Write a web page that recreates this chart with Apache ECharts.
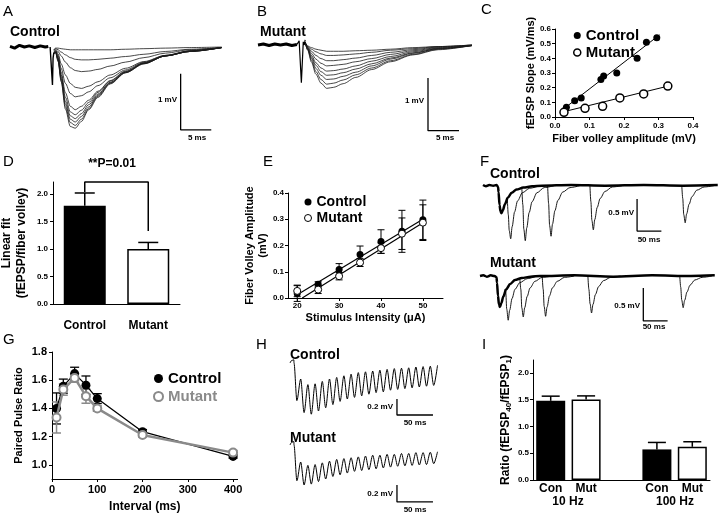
<!DOCTYPE html>
<html><head><meta charset="utf-8">
<script src="https://cdn.jsdelivr.net/npm/echarts@6/dist/echarts.min.js"></script>
<style>html,body{margin:0;padding:0;background:#fff}#c{width:720px;height:516px}</style>
</head><body><div id="c"></div><script>
const FONT = '"Liberation Sans", Arial, sans-serif';

// ---------------- A: control field EPSP sweeps (ms, mV) ----------------
const aPre = [[-6.85,0.01],[-6.1,-0.02],[-5.3,0.03],[-4.5,0],[-3.7,0.02],[-2.8,-0.01],[-1.9,0.02],[-1.1,0],[-0.6,0.01]];
const aArtifact = [[-0.3,0],[0,0.02],[0.08,-0.68],[0.18,-0.2],[0.3,-0.1]];
const aTimes = [0.3,0.6,1.0,1.5,2.2,3.0,3.8,4.8,6,7.5,9.5,12,15,18.5,22.5,27.7];
const aSweeps = [
  [-0.05,-0.02,-0.02,-0.03,-0.04,-0.05,-0.05,-0.05,-0.05,-0.05,-0.05,-0.04,-0.03,-0.02,-0.01,0],
  [-0.05,-0.03,-0.05,-0.09,-0.14,-0.19,-0.22,-0.23,-0.23,-0.22,-0.2,-0.17,-0.13,-0.08,-0.04,-0.01],
  [-0.06,-0.05,-0.08,-0.16,-0.27,-0.37,-0.42,-0.44,-0.43,-0.4,-0.34,-0.27,-0.19,-0.11,-0.05,-0.01],
  [-0.08,-0.06,-0.12,-0.3,-0.5,-0.65,-0.72,-0.74,-0.7,-0.62,-0.5,-0.38,-0.26,-0.15,-0.07,-0.01],
  [-0.09,-0.07,-0.15,-0.38,-0.65,-0.83,-0.89,-0.87,-0.8,-0.69,-0.55,-0.41,-0.27,-0.15,-0.07,-0.01],
  [-0.1,-0.08,-0.18,-0.45,-0.82,-1.06,-1.12,-1.06,-0.95,-0.79,-0.6,-0.43,-0.28,-0.16,-0.07,-0.01],
  [-0.1,-0.09,-0.2,-0.5,-0.9,-1.16,-1.21,-1.13,-0.99,-0.81,-0.61,-0.44,-0.29,-0.16,-0.07,-0.01],
  [-0.11,-0.09,-0.22,-0.54,-0.97,-1.23,-1.28,-1.19,-1.03,-0.84,-0.63,-0.45,-0.29,-0.16,-0.08,-0.01],
  [-0.11,-0.1,-0.23,-0.57,-1.02,-1.29,-1.34,-1.24,-1.07,-0.86,-0.64,-0.45,-0.29,-0.16,-0.08,-0.01],
  [-0.12,-0.1,-0.25,-0.6,-1.07,-1.35,-1.4,-1.29,-1.1,-0.88,-0.65,-0.46,-0.3,-0.16,-0.08,-0.01],
  [-0.12,-0.1,-0.26,-0.62,-1.11,-1.42,-1.45,-1.33,-1.12,-0.9,-0.66,-0.46,-0.3,-0.16,-0.08,-0.01]
];
const aScaleBar = [[21.0,-0.48],[21.0,-1.48],[26.0,-1.48]];

// ---------------- B: mutant field EPSP sweeps ----------------
const bPre = [[-6.95,0],[-6.1,0.02],[-5.2,-0.01],[-4.3,0.02],[-3.4,0],[-2.5,0.02],[-1.6,-0.01],[-0.8,0.01]];
const bArtifact = [[-0.8,0.01],[-0.45,0.08],[-0.1,-0.72],[0.2,0.06],[0.35,0.0],[0.5,0.1]];
const bTimes = [0.5,0.9,1.5,2.2,3.0,3.9,5,6.5,8.5,11,14,17.5,21.5,26.85];
const bSweeps = [
  [0.05,-0.02,-0.05,-0.08,-0.1,-0.12,-0.12,-0.12,-0.11,-0.1,-0.08,-0.05,-0.03,0],
  [0.05,-0.03,-0.08,-0.13,-0.17,-0.2,-0.2,-0.19,-0.17,-0.14,-0.1,-0.07,-0.03,0],
  [0.05,-0.04,-0.12,-0.2,-0.26,-0.3,-0.3,-0.28,-0.25,-0.2,-0.14,-0.09,-0.04,0],
  [0.05,-0.05,-0.16,-0.27,-0.35,-0.4,-0.39,-0.37,-0.32,-0.26,-0.18,-0.11,-0.05,-0.01],
  [0.05,-0.06,-0.2,-0.34,-0.44,-0.5,-0.49,-0.46,-0.4,-0.31,-0.22,-0.13,-0.06,-0.01],
  [0.05,-0.07,-0.23,-0.39,-0.51,-0.58,-0.57,-0.53,-0.46,-0.36,-0.25,-0.15,-0.07,-0.01],
  [0.05,-0.08,-0.26,-0.45,-0.58,-0.66,-0.65,-0.6,-0.52,-0.4,-0.27,-0.16,-0.07,-0.01],
  [0.05,-0.09,-0.3,-0.51,-0.66,-0.75,-0.73,-0.67,-0.57,-0.44,-0.3,-0.18,-0.08,-0.01],
  [0.05,-0.1,-0.33,-0.56,-0.73,-0.83,-0.81,-0.74,-0.62,-0.47,-0.32,-0.19,-0.09,-0.01]
];
const bScaleBar = [[19.9,-0.63],[19.9,-1.64],[24.8,-1.64]];

// ---------------- C: fEPSP slope vs fiber volley ----------------
const cCtrlX = [0.033,0.057,0.076,0.133,0.141,0.179,0.238,0.265,0.295];
const cCtrlY = [0.066,0.11,0.13,0.255,0.28,0.30,0.40,0.51,0.54];
const cMutX = [0.026,0.087,0.138,0.188,0.257,0.327];
const cMutY = [0.032,0.059,0.073,0.13,0.157,0.211];
const cCtrlFit = [[0.016,0.039],[0.303,0.56]];
const cMutFit = [[0.02,0.033],[0.33,0.212]];

// ---------------- D: linear fit bars ----------------
const dCats = ['Control','Mutant'];
const dMeans = [1.79, 1.0];
const dErr = [0.23, 0.12];
const dBracket = [[0,2.04],[0,2.22],[1,2.22],[1,1.33]];

// ---------------- E: fiber volley vs stimulus ----------------
const eStim = [20,25,30,35,40,45,50];
const eCtrl = [0.017,0.052,0.109,0.166,0.215,0.254,0.298];
const eCtrlErr = [0.03,0.01,0.022,0.032,0.045,0.08,0.075];
const eMut = [0.027,0.032,0.083,0.135,0.19,0.245,0.287];
const eMutErr = [0.022,0.015,0.014,0.015,0.02,0.06,0.068];
const eCtrlFit = [[20,0.012],[50,0.3]];
const eMutFit = [[21.2,0],[50,0.287]];

// ---------------- F: paired-pulse sweeps (ms, mV) ----------------
const fCtrlFirst = [[-31,0.01],[-25,-0.01],[-18,0.01],[-10,0],[-3,0.01],[0,-0.02],[1,-0.1],[3,-0.3],[5,-0.4],[7,-0.43],[10,-0.38],[14,-0.29],[20,-0.19],[28,-0.11],[38,-0.06],[52,-0.03],[70,-0.01],[90,0],[150,0.01],[220,0],[300,0.01],[380,0],[452,0.01]];
const fCtrlSecond = [
  [[19,-0.2],[21,-0.45],[23,-0.7],[26,-0.83],[29,-0.64],[34,-0.41],[40,-0.24],[50,-0.11],[65,-0.04],[85,0]],
  [[49,-0.05],[51,-0.3],[53,-0.68],[56,-0.86],[59,-0.66],[64,-0.42],[70,-0.25],[80,-0.11],[95,-0.03],[115,0]],
  [[102,0],[104,-0.28],[106,-0.62],[109,-0.79],[112,-0.6],[117,-0.39],[123,-0.23],[133,-0.1],[148,-0.03],[168,0]],
  [[189,0],[191,-0.25],[193,-0.54],[196,-0.69],[199,-0.53],[204,-0.34],[210,-0.2],[220,-0.09],[235,-0.02],[255,0]],
  [[378,0],[380,-0.2],[382,-0.45],[385,-0.58],[388,-0.44],[393,-0.29],[399,-0.17],[409,-0.07],[424,-0.02],[444,0]]
];
const fCtrlScaleBar = [[286,-0.21],[286,-0.71],[336,-0.71]];
const fMutFirst = [[-34,0],[-27,0.01],[-20,-0.01],[-12,0.01],[-4,0],[0,-0.02],[1,-0.1],[3,-0.3],[5,-0.43],[7,-0.47],[10,-0.41],[14,-0.31],[20,-0.2],[28,-0.12],[38,-0.06],[52,-0.03],[70,-0.01],[90,0],[160,0.01],[240,-0.01],[320,0.01],[400,0],[449,0.01]];
const fMutSecond = [
  [[17,-0.2],[19,-0.25],[21,-0.5],[24,-0.67],[27,-0.52],[32,-0.34],[38,-0.2],[48,-0.1],[63,-0.04],[83,0]],
  [[48,-0.04],[50,-0.2],[52,-0.48],[55,-0.62],[58,-0.48],[63,-0.31],[69,-0.18],[79,-0.08],[94,-0.02],[114,0]],
  [[94,0],[96,-0.2],[98,-0.46],[101,-0.61],[104,-0.47],[109,-0.3],[115,-0.18],[125,-0.08],[140,-0.02],[160,0]],
  [[188,0],[190,-0.2],[192.5,-0.42],[195.5,-0.56],[198.5,-0.43],[203.5,-0.28],[210,-0.16],[220,-0.07],[235,-0.02],[255,0]],
  [[377,0],[379,-0.17],[381,-0.36],[384,-0.48],[387,-0.37],[392,-0.24],[398,-0.14],[408,-0.06],[423,-0.02],[443,0]]
];
const fMutScaleBar = [[302,-0.18],[302,-0.68],[352,-0.68]];

// ---------------- G: paired pulse ratio ----------------
const gInt = [10,25,50,75,100,200,400];
const gCtrl = [1.40,1.558,1.647,1.565,1.47,1.235,1.06];
const gCtrlErr = [0.11,0.05,0.045,0.065,0.035,0.015,0.012];
const gMut = [1.336,1.534,1.616,1.487,1.40,1.212,1.087];
const gMutErr = [0.11,0.04,0.03,0.05,0.02,0.015,0.015];

// ---------------- H: 100 Hz trains (trough / peak of each of 20 responses, mV) ----------------
const hPre = [[-5.5,0],[-3.5,0.03],[-0.2,0.04]];
const hCtrlTroughs = [-0.47,-0.62,-0.64,-0.6,-0.56,-0.52,-0.48,-0.45,-0.43,-0.41,-0.39,-0.37,-0.36,-0.34,-0.33,-0.32,-0.31,-0.3,-0.29,-0.28];
const hCtrlPeaks = [-0.2,-0.27,-0.26,-0.23,-0.2,-0.18,-0.16,-0.14,-0.12,-0.11,-0.1,-0.09,-0.08,-0.07,-0.065,-0.06,-0.05,-0.045,-0.04,-0.03];
const hMutTroughs = [-0.42,-0.47,-0.46,-0.43,-0.4,-0.37,-0.35,-0.33,-0.31,-0.3,-0.29,-0.28,-0.27,-0.26,-0.25,-0.245,-0.24,-0.235,-0.23,-0.22];
const hMutPeaks = [-0.2,-0.24,-0.23,-0.21,-0.19,-0.17,-0.16,-0.15,-0.14,-0.13,-0.12,-0.12,-0.11,-0.11,-0.1,-0.1,-0.09,-0.09,-0.085,-0.08];
const hCtrlScaleBar = [[143,-0.45],[143,-0.65],[193,-0.65]];
const hMutScaleBar = [[143,-0.47],[143,-0.67],[193,-0.67]];

// ---------------- I: train ratio bars ----------------
const iCats = ['Con','Mut','','Con','Mut'];
const iMeans = [1.478,1.503,null,0.571,0.62];
const iErr = [0.087,0.067,null,0.13,0.094];
const iGroups = ['10 Hz','100 Hz'];

// ================= helpers =================
const f1 = v => v.toFixed(1);
function valAx(gi, min, max, o) {
  const ax = {
    type:'value', gridIndex:gi, min:min, max:max,
    axisLine:{show:true, onZero:false, lineStyle:{color:'#000', width:1}},
    axisTick:{show:true, inside:false, length:3, lineStyle:{color:'#000', width:1}},
    axisLabel:{show:true, color:'#000', fontFamily:FONT, fontWeight:'bold', fontSize:o.fs, margin:o.margin},
    splitLine:{show:false},
    nameLocation:'middle', nameGap:o.gap, nameMoveOverlap:false,
    nameTextStyle:{color:'#000', fontFamily:FONT, fontWeight:'bold', fontSize:o.nfs, lineHeight:o.nlh}
  };
  if (o.interval) ax.interval = o.interval;
  if (o.ticks) { ax.axisTick.customValues = o.ticks; ax.axisLabel.customValues = o.ticks; }
  if (o.fmt) ax.axisLabel.formatter = o.fmt;
  if (o.name) ax.name = o.name;
  if (o.rich) ax.nameTextStyle.rich = o.rich;
  return ax;
}
function catAx(gi, cats, o) {
  return {type:'category', gridIndex:gi, data:cats,
    axisLine:{show:true, lineStyle:{color:'#000', width:1}}, axisTick:{show:false},
    axisLabel:{color:'#000', fontFamily:FONT, fontWeight:'bold', fontSize:o.fs, margin:o.margin, interval:0},
    splitLine:{show:false}};
}
function hid(gi, min, max) { return {type:'value', gridIndex:gi, min:min, max:max, show:false}; }

const series = [];
function line(gi, data, o) {
  o = o || {};
  series.push({type:'line', xAxisIndex:gi, yAxisIndex:gi, data:data, name:o.name,
    symbol:o.symbol || 'none', symbolSize:o.size, showSymbol:!!o.symbol,
    smooth:o.smooth || false, smoothMonotone:'x',
    lineStyle:{color:o.color || '#000', width:o.width || 1, opacity:1},
    itemStyle:Object.assign({opacity:1}, o.item || {}), silent:true, animation:false, z:o.z || 2, clip:false});
}
function scatter(gi, xs, ys, o) {
  series.push({type:'scatter', xAxisIndex:gi, yAxisIndex:gi, name:o.name,
    data:xs.map((x,i)=>[x, ys[i]]), symbol:'circle', symbolSize:o.size,
    itemStyle:Object.assign({opacity:1}, o.item), silent:true, animation:false, z:4});
}
function errBars(gi, xs, lo, hi, o) {
  series.push({type:'custom', xAxisIndex:gi, yAxisIndex:gi, silent:true, animation:false, z:o.z || 3,
    data:xs.map((x,i)=>[x, lo[i], hi[i]]).filter(d=>d[1]!=null && !isNaN(d[1])),
    encode:{x:0, y:[1,2]},
    renderItem:(params, api)=>{
      const x = api.value(0), a = api.coord([x, api.value(1)]), b = api.coord([x, api.value(2)]);
      const st = {stroke:o.color || '#000', lineWidth:o.width || 1};
      const ch = [{type:'line', shape:{x1:a[0],y1:a[1],x2:b[0],y2:b[1]}, style:st},
                  {type:'line', shape:{x1:b[0]-o.cap,y1:b[1],x2:b[0]+o.cap,y2:b[1]}, style:st}];
      if (!o.up) ch.push({type:'line', shape:{x1:a[0]-o.cap,y1:a[1],x2:a[0]+o.cap,y2:a[1]}, style:st});
      return {type:'group', children:ch};
    }});
}
const zip = (ts, vs) => ts.map((t,i)=>[t, vs[i]]);

// ----- A -----
line(0, aPre, {width:3});
aSweeps.forEach(s => line(0, zip(aTimes, s), {width:0.8, color:'#1a1a1a', smooth:0.3}));
line(0, aArtifact, {width:1.4});
line(0, aScaleBar, {width:1.3});
// ----- B -----
line(1, bPre, {width:3});
bSweeps.forEach(s => line(1, zip(bTimes, s), {width:0.8, color:'#1a1a1a', smooth:0.3}));
line(1, bArtifact, {width:1.2});
line(1, bScaleBar, {width:1.3});
// ----- C -----
line(2, cCtrlFit, {width:1});
line(2, cMutFit, {width:1});
scatter(2, cCtrlX, cCtrlY, {name:'Control', size:7, item:{color:'#000'}});
scatter(2, cMutX, cMutY, {name:'Mutant', size:8, item:{color:'#fff', borderColor:'#000', borderWidth:1.5}});
// ----- D -----
series.push({type:'bar', xAxisIndex:3, yAxisIndex:3, barWidth:42, silent:true, animation:false, z:2,
  data:dMeans.map((v,i)=>({value:v, itemStyle: i===0 ? {color:'#000', opacity:1} : {color:'#fff', borderColor:'#000', borderWidth:1.5, opacity:1}}))});
errBars(3, [0,1], dMeans, dMeans.map((v,i)=>v+dErr[i]), {cap:10, width:1.5, up:true});
line(3, dBracket, {width:1.5});
// ----- E -----
line(4, eCtrlFit, {width:1.2});
line(4, eMutFit, {width:1.2});
errBars(4, eStim, eCtrl.map((v,i)=>v-eCtrlErr[i]), eCtrl.map((v,i)=>v+eCtrlErr[i]), {cap:3.5, width:1});
errBars(4, eStim, eMut.map((v,i)=>v-eMutErr[i]), eMut.map((v,i)=>v+eMutErr[i]), {cap:3.5, width:1});
scatter(4, eStim, eCtrl, {name:'Control', size:7, item:{color:'#000'}});
scatter(4, eStim, eMut, {name:'Mutant', size:7, item:{color:'#fff', borderColor:'#000', borderWidth:1}});
// ----- F -----
line(5, fCtrlFirst, {width:2.5, smooth:0.3});
fCtrlSecond.forEach(s => line(5, s, {width:0.9, smooth:0.3}));
line(5, fCtrlScaleBar, {width:1.3});
line(6, fMutFirst, {width:2.5, smooth:0.3});
fMutSecond.forEach(s => line(6, s, {width:0.9, smooth:0.3}));
line(6, fMutScaleBar, {width:1.3});
// ----- G -----
errBars(7, gInt, gCtrl.map((v,i)=>v-gCtrlErr[i]), gCtrl.map((v,i)=>v+gCtrlErr[i]), {cap:4.5, width:1.3, color:'#000'});
errBars(7, gInt, gMut.map((v,i)=>v-gMutErr[i]), gMut.map((v,i)=>v+gMutErr[i]), {cap:4.5, width:1.5, color:'#8a8a8a'});
line(7, zip(gInt, gCtrl), {name:'Control', width:1.3, symbol:'circle', size:9, item:{color:'#000'}, z:4});
line(7, zip(gInt, gMut), {name:'Mutant', width:2.5, color:'#8a8a8a', symbol:'circle', size:8, item:{color:'#fff', borderColor:'#8a8a8a', borderWidth:2}, z:5});
// ----- H -----
function train(troughs, peaks) {
  const d = hPre.slice();
  d.push([0, 0]);
  troughs.forEach((v,i)=>{ d.push([10*i+4, v]); d.push([10*i+9.3, peaks[i]]); });
  return d;
}
line(8, train(hCtrlTroughs, hCtrlPeaks), {width:1, smooth:0.3});
line(8, hCtrlScaleBar, {width:1.3});
line(9, train(hMutTroughs, hMutPeaks), {width:1, smooth:0.3});
line(9, hMutScaleBar, {width:1.3});
// ----- I -----
series.push({type:'bar', xAxisIndex:10, yAxisIndex:10, barWidth:29, silent:true, animation:false, z:2,
  data:iMeans.map((v,i)=> v==null ? '-' : ({value:v, itemStyle: iCats[i]==='Con' ? {color:'#000', opacity:1} : {color:'#fff', borderColor:'#000', borderWidth:1.5, opacity:1}}))});
errBars(10, [0,1,2,3,4], iMeans, iMeans.map((v,i)=> v==null ? null : v+iErr[i]), {cap:9, width:1.5, up:true});

// ================= text =================
function T(text, x, y, size, align, bold, color) {
  const font = (bold ? 'bold ' : '') + size + 'px ' + FONT;
  return {type:'text', x:x, y:y, silent:true, style:{text:text, font:font, fill:color || '#000',
    align:align, textAlign:align, verticalAlign:'middle', textVerticalAlign:'middle'}};
}
const texts = [
  T('A', 3, 12, 15, 'left'), T('B', 257, 12, 15, 'left'), T('C', 481, 10, 15, 'left'),
  T('D', 3, 162, 15, 'left'), T('E', 263, 162, 15, 'left'), T('F', 480, 162, 15, 'left'),
  T('G', 3, 340, 15, 'left'), T('H', 256, 345, 15, 'left'), T('I', 482, 345, 15, 'left'),
  T('Control', 10, 32, 14, 'left', true), T('Mutant', 260, 32, 14, 'left', true),
  T('1 mV', 177, 100, 8, 'right', true), T('5 ms', 197, 138, 8, 'center', true),
  T('1 mV', 424, 101, 8, 'right', true), T('5 ms', 445, 138, 8, 'center', true),
  T('**P=0.01', 112, 164, 12, 'center', true),
  T('Control', 490, 174, 14, 'left', true), T('Mutant', 490, 263, 14, 'left', true),
  T('0.5 mV', 634, 213, 8, 'right', true), T('50 ms', 649, 240, 8, 'center', true),
  T('0.5 mV', 640, 306, 8, 'right', true), T('50 ms', 654, 327, 8, 'center', true),
  T('Control', 290, 355, 14, 'left', true), T('Mutant', 290, 438, 14, 'left', true),
  T('0.2 mV', 393, 407, 8, 'right', true), T('50 ms', 415, 423, 8, 'center', true),
  T('0.2 mV', 393, 494, 8, 'right', true), T('50 ms', 415, 510, 8, 'center', true),
  T(iGroups[0], 568, 502, 12, 'center', true), T(iGroups[1], 675, 502, 12, 'center', true)
];

const legTxt = s => ({color:'#000', fontFamily:FONT, fontWeight:'bold', fontSize:s});
const option = {
  animation:false,
  backgroundColor:'#fff',
  grid:[
    {left:10, top:40, width:212, height:100},
    {left:258, top:38, width:214, height:100},
    {left:555, top:29, width:138, height:88},
    {left:53, top:182, width:127, height:122},
    {left:288, top:193, width:155, height:105},
    {left:483, top:175, width:235, height:70},
    {left:480, top:266, width:235, height:70},
    {left:52, top:352, width:185.6, height:127},
    {left:290, top:355, width:148.3, height:70},
    {left:290, top:437, width:148.3, height:75},
    {left:533, top:360, width:177, height:120}
  ].map(g => Object.assign(g, {containLabel:false, outerBoundsMode:'none'})),
  xAxis:[
    hid(0,-6.85,27.75),
    hid(1,-6.95,26.85),
    valAx(2,0,0.4,{interval:0.1, fs:8, fmt:f1, margin:5, name:'Fiber volley amplitude (mV)', nfs:11, gap:16}),
    catAx(3, dCats, {fs:12, margin:16}),
    valAx(4,17.8,54.8,{ticks:[20,30,40,50], fs:8, margin:4, name:'Stimulus Intensity (\u03bcA)', nfs:11, gap:14}),
    hid(5,-31,452.5),
    hid(6,-34,449.5),
    valAx(7,0,410,{ticks:[0,100,200,300,400], fs:11, margin:5, name:'Interval (ms)', nfs:12, gap:22}),
    hid(8,-5.56,200.4),
    hid(9,-5.56,200.4),
    catAx(10, iCats, {fs:12, margin:3})
  ],
  yAxis:[
    hid(0,-1.661,0.125),
    hid(1,-1.78,0.134),
    valAx(2,0,0.6,{interval:0.1, fs:8, fmt:f1, margin:4, name:'fEPSP Slope (mV/ms)', nfs:11, gap:19}),
    valAx(3,0,2.22,{ticks:[0,0.5,1,1.5,2], fs:8, fmt:f1, margin:5, name:'Linear fit\n(fEPSP/fiber volley)', nfs:12, nlh:15, gap:24}),
    valAx(4,0,0.4,{interval:0.1, fs:8, fmt:f1, margin:4, name:'Fiber Volley Amplitude\n(mV)', nfs:11, nlh:13, gap:19}),
    hid(5,-0.927,0.167),
    hid(6,-0.909,0.152),
    valAx(7,0.9,1.8,{ticks:[1,1.2,1.4,1.6,1.8], fs:11, fmt:f1, margin:5, name:'Paired Pulse Ratio', nfs:11, gap:28}),
    hid(8,-0.775,0.1),
    hid(9,-0.788,0.094),
    valAx(10,0,2.24,{ticks:[0,0.5,1,1.5,2], fs:8, fmt:f1, margin:4, gap:20, nfs:12,
      name:'{a|Ratio (fEPSP}{s|40}{a|/fEPSP}{s|1}{a|)}',
      rich:{a:{fontSize:12, fontWeight:'bold', fontFamily:FONT, color:'#000', lineHeight:14},
            s:{fontSize:8, fontWeight:'bold', fontFamily:FONT, color:'#000', lineHeight:8, verticalAlign:'bottom'}}})
  ],
  legend:[
    {left:568, top:23, orient:'vertical', itemWidth:7, itemHeight:7, itemGap:2, selectedMode:false, textStyle:legTxt(15),
     data:[{name:'Control', icon:'circle', itemStyle:{color:'#000'}},
           {name:'Mutant', icon:'circle', itemStyle:{color:'#fff', borderColor:'#000', borderWidth:1.5}}]},
    {left:299, top:190, orient:'vertical', itemWidth:7, itemHeight:7, itemGap:2, selectedMode:false, textStyle:legTxt(14),
     data:[{name:'Control', icon:'circle', itemStyle:{color:'#000'}},
           {name:'Mutant', icon:'circle', itemStyle:{color:'#fff', borderColor:'#000', borderWidth:1}}]},
    {left:148, top:366, orient:'vertical', itemWidth:9, itemHeight:9, itemGap:3, selectedMode:false, textStyle:legTxt(15),
     data:[{name:'Control', icon:'circle', itemStyle:{color:'#000'}},
           {name:'Mutant', icon:'circle', itemStyle:{color:'#fff', borderColor:'#8a8a8a', borderWidth:2}, textStyle:{color:'#8a8a8a'}}]}
  ],
  graphic:{elements:texts},
  series:series
};
const chart = echarts.init(document.getElementById('c'), null, {renderer:'canvas'});
chart.setOption(option);
</script></body></html>
